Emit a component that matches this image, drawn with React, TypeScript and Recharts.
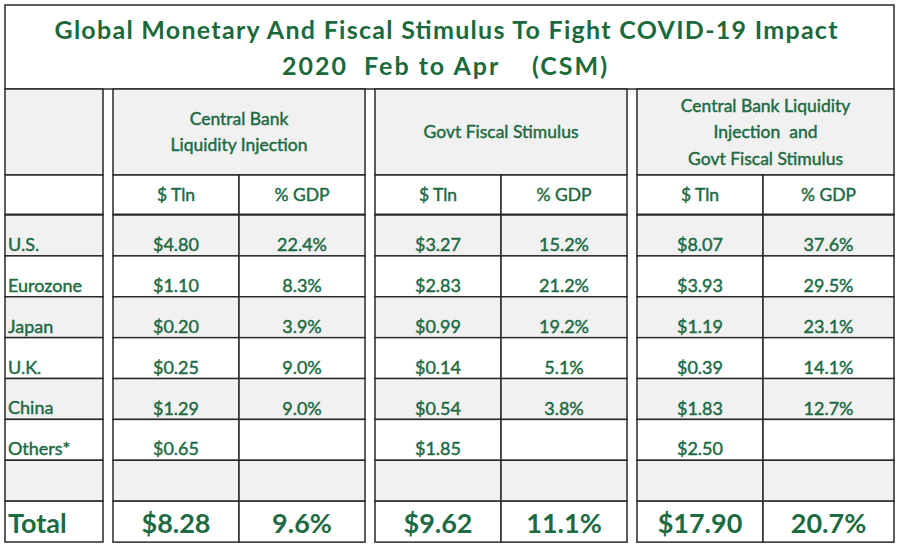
import { ComposedChart, Bar, XAxis, YAxis, Customized } from 'recharts';

const titleLines = ['Global Monetary And Fiscal Stimulus To Fight COVID-19 Impact', '2020  Feb to Apr    (CSM)'];
const groupHeaders = [
  ['Central Bank', 'Liquidity Injection'],
  ['Govt Fiscal Stimulus'],
  ['Central Bank Liquidity', 'Injection  and', 'Govt Fiscal Stimulus'],
];
const subHeaders = ['$ Tln', '% GDP'];

const regions = ['U.S.', 'Eurozone', 'Japan', 'U.K.', 'China', 'Others*', '', 'Total'];
const cbTln = [4.8, 1.1, 0.2, 0.25, 1.29, 0.65, null, 8.28];
const cbGdp = [22.4, 8.3, 3.9, 9.0, 9.0, null, null, 9.6];
const fsTln = [3.27, 2.83, 0.99, 0.14, 0.54, 1.85, null, 9.62];
const fsGdp = [15.2, 21.2, 19.2, 5.1, 3.8, null, null, 11.1];
const totTln = [8.07, 3.93, 1.19, 0.39, 1.83, 2.5, null, 17.9];
const totGdp = [37.6, 29.5, 23.1, 14.1, 12.7, null, null, 20.7];

const columns = [
  { key: 'cbTln', values: cbTln, kind: 'usd' },
  { key: 'cbGdp', values: cbGdp, kind: 'pct' },
  { key: 'fsTln', values: fsTln, kind: 'usd' },
  { key: 'fsGdp', values: fsGdp, kind: 'pct' },
  { key: 'totTln', values: totTln, kind: 'usd' },
  { key: 'totGdp', values: totGdp, kind: 'pct' },
];

// one row per region, each column also gets a unit span for the stacked cell grid
const tableData = regions.map((region, i) => {
  const row: Record<string, any> = { region };
  columns.forEach((c) => {
    row[c.key] = c.values[i];
    row[`${c.key}Span`] = 1;
  });
  return row;
});

// layout
const W = 900;
const H = 548;
const LEFT = 5;
const RIGHT = 894;
const TITLE_BOTTOM = 89;
const GROUP_BOTTOM = 175;
const BODY_TOP = 215;
const BODY_BOTTOM = 542;
const LABEL_W = 103;
const PLOT_LEFT = LEFT + LABEL_W;
const COL_W = (RIGHT - PLOT_LEFT) / columns.length;
const ROW_H = (BODY_BOTTOM - BODY_TOP) / regions.length;
const GAP = 5;

const GREEN = '#1d6b43';
const TITLE_GREEN = '#1b6a3c';
const GRAY = '#f1f1f1';
const LINE = '#2a2a2a';
const FONT = 'Lato, "Open Sans", sans-serif';

const nbsp = (s: string) => s.replace(/ /g, '\u00a0');

const fmt = (v: number | null, kind: string) => {
  if (v == null) return '';
  return kind === 'usd' ? `$${v.toFixed(2)}` : `${v.toFixed(1)}%`;
};

const rowFill = (i: number) => (i % 2 === 0 && regions[i] !== 'Total' ? GRAY : '#ffffff');

function makeCellShape(colIdx: number) {
  const col = columns[colIdx];
  return function CellShape(props: any) {
    const { x, y, width, height, payload } = props;
    const padL = colIdx % 2 === 0 ? GAP : 0;
    const padR = colIdx % 2 === 1 && colIdx < columns.length - 1 ? GAP : 0;
    const rowIdx = regions.indexOf(payload.region);
    const isTotal = payload.region === 'Total';
    const left = x + padL;
    const w = width - padL - padR;
    return (
      <g>
        <rect x={left} y={y} width={w} height={height} fill={rowFill(rowIdx)} stroke={LINE} strokeWidth={1.5} />
        <text
          x={left + w / 2}
          y={y + height - (isTotal ? 9 : 5)}
          textAnchor="middle"
          fontFamily={FONT}
          fontSize={isTotal ? 27 : 18}
          fontWeight={isTotal ? 700 : 400}
          fill={GREEN}
          stroke={isTotal ? 'none' : GREEN}
          strokeWidth={0.45}
        >
          {fmt(payload[col.key], col.kind)}
        </text>
      </g>
    );
  };
}

const cellShapes = columns.map((_, i) => makeCellShape(i));

function RegionTick(props: any) {
  const { y, payload } = props;
  const idx = regions.indexOf(payload.value);
  const isTotal = payload.value === 'Total';
  const top = y - ROW_H / 2;
  return (
    <g>
      <rect x={LEFT} y={top} width={LABEL_W - GAP} height={ROW_H} fill={rowFill(idx)} stroke={LINE} strokeWidth={1.5} />
      <text
        x={LEFT + 3}
        y={top + ROW_H - (isTotal ? 9 : 5)}
        fontFamily={FONT}
        fontSize={isTotal ? 27 : 18}
        fontWeight={isTotal ? 700 : 400}
        fill={GREEN}
        stroke={isTotal ? 'none' : GREEN}
        strokeWidth={0.45}
      >
        {payload.value}
      </text>
    </g>
  );
}

function HeaderLayer() {
  const groupMid = (TITLE_BOTTOM + GROUP_BOTTOM) / 2;
  const subMid = (GROUP_BOTTOM + BODY_TOP) / 2;
  return (
    <g>
      <rect x={LEFT} y={LEFT} width={RIGHT - LEFT} height={TITLE_BOTTOM - LEFT} fill="#fff" stroke={LINE} strokeWidth={1.5} />
      <text x={446} y={39} textAnchor="middle" fontFamily={FONT} fontSize={25} fontWeight={700} fill={TITLE_GREEN} textLength={783}>
        {titleLines[0]}
      </text>
      <text x={444.5} y={75} textAnchor="middle" fontFamily={FONT} fontSize={25} fontWeight={700} fill={TITLE_GREEN} textLength={325}>
        {nbsp(titleLines[1])}
      </text>

      <rect x={LEFT} y={TITLE_BOTTOM} width={LABEL_W - GAP} height={GROUP_BOTTOM - TITLE_BOTTOM} fill={GRAY} stroke={LINE} strokeWidth={1.5} />
      <rect x={LEFT} y={GROUP_BOTTOM} width={LABEL_W - GAP} height={BODY_TOP - GROUP_BOTTOM} fill="#fff" stroke={LINE} strokeWidth={1.5} />

      {groupHeaders.map((lines, g) => {
        const x0 = PLOT_LEFT + g * 2 * COL_W + GAP;
        const x1 = PLOT_LEFT + (g + 1) * 2 * COL_W - (g < groupHeaders.length - 1 ? GAP : 0);
        return (
          <g key={g}>
            <rect x={x0} y={TITLE_BOTTOM} width={x1 - x0} height={GROUP_BOTTOM - TITLE_BOTTOM} fill={GRAY} stroke={LINE} strokeWidth={1.5} />
            {lines.map((t, i) => (
              <text
                key={i}
                x={(x0 + x1) / 2}
                y={groupMid + (i - (lines.length - 1) / 2) * 26.5 + 6}
                textAnchor="middle"
                fontFamily={FONT}
                fontSize={17.5}
                fill={GREEN}
                stroke={GREEN}
                strokeWidth={0.45}
              >
                {nbsp(t)}
              </text>
            ))}
          </g>
        );
      })}

      {columns.map((c, i) => {
        const padL = i % 2 === 0 ? GAP : 0;
        const padR = i % 2 === 1 && i < columns.length - 1 ? GAP : 0;
        const x0 = PLOT_LEFT + i * COL_W + padL;
        const w = COL_W - padL - padR;
        return (
          <g key={c.key}>
            <rect x={x0} y={GROUP_BOTTOM} width={w} height={BODY_TOP - GROUP_BOTTOM} fill="#fff" stroke={LINE} strokeWidth={1.5} />
            <text
              x={x0 + w / 2}
              y={subMid + 6}
              textAnchor="middle"
              fontFamily={FONT}
              fontSize={17.5}
              fill={GREEN}
              stroke={GREEN}
              strokeWidth={0.45}
            >
              {subHeaders[i % 2]}
            </text>
          </g>
        );
      })}

      <line x1={LEFT} x2={PLOT_LEFT - GAP} y1={BODY_TOP} y2={BODY_TOP} stroke={LINE} strokeWidth={3} />
      {[0, 1, 2].map((g) => (
        <line
          key={g}
          x1={PLOT_LEFT + g * 2 * COL_W + GAP}
          x2={PLOT_LEFT + (g + 1) * 2 * COL_W - (g < 2 ? GAP : 0)}
          y1={BODY_TOP}
          y2={BODY_TOP}
          stroke={LINE}
          strokeWidth={3}
        />
      ))}
    </g>
  );
}

export default function App() {
  return (
    <div style={{ position: 'absolute', left: 0, top: 0, width: W, height: H, background: '#fff' }}>
      <ComposedChart
        layout="vertical"
        width={W}
        height={H}
        data={tableData}
        margin={{ top: BODY_TOP, right: W - RIGHT, bottom: H - BODY_BOTTOM, left: LEFT }}
        barCategoryGap={0}
        barGap={0}
      >
        <XAxis type="number" domain={[0, columns.length]} hide />
        <YAxis
          type="category"
          dataKey="region"
          width={LABEL_W}
          axisLine={false}
          tickLine={false}
          interval={0}
          tick={RegionTick}
        />
        {columns.map((c, i) => (
          <Bar
            key={c.key}
            dataKey={`${c.key}Span`}
            stackId="grid"
            shape={cellShapes[i]}
            isAnimationActive={false}
          />
        ))}
        <Customized component={HeaderLayer} />
      </ComposedChart>
    </div>
  );
}
